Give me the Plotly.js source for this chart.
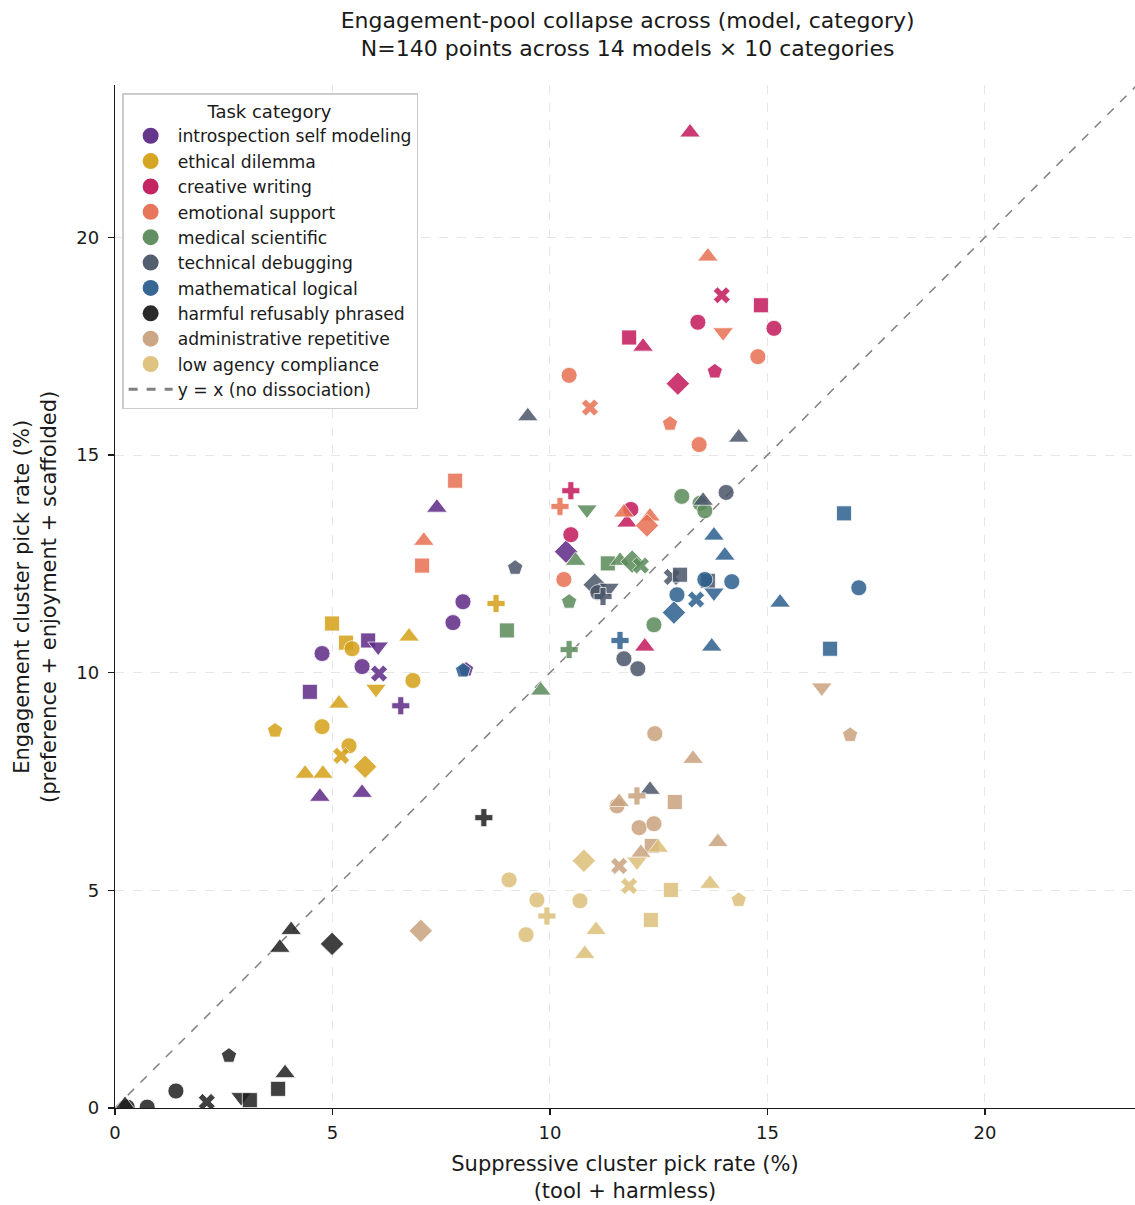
<!DOCTYPE html>
<html>
<head>
<meta charset="utf-8">
<script src="https://cdn.plot.ly/plotly-3.0.1.min.js"></script>
<style>body{margin:0;padding:0;background:#fff;} #chart{width:1135px;height:1205px;}</style>
</head>
<body>
<div id="chart"></div>
<script>
// Categories
const categories = ["introspection self modeling","ethical dilemma","creative writing","emotional support","medical scientific","technical debugging","mathematical logical","harmful refusably phrased","administrative repetitive","low agency compliance"];
const colors = ["#5e2a86","#d4a017","#c2185b","#e76f51","#5a8a5a","#4a5568","#2c5f8d","#1f1f1f","#c9a27e","#dcc07a"];

// Per-category points: suppressive (x), engagement (y), model marker code
const introX = [4.76,8.0,7.77,5.68,4.48,5.82,6.05,6.07,6.57,7.4,4.71,5.68,10.37,8.07];
const introY = [10.44,11.63,11.15,10.14,9.56,10.74,10.6,9.98,9.24,13.79,7.15,7.24,12.78,10.07];
const introM = ["o","o","o","o","s","s","v","X","P","^","^","^","D","p"];

const ethX = [4.99,5.31,5.45,6.76,6.85,6.0,5.15,3.68,4.76,5.38,5.2,5.75,4.37,4.78,8.76];
const ethY = [11.13,10.69,10.55,10.83,9.82,9.63,9.29,8.67,8.76,8.32,8.09,7.84,7.68,7.68,11.59];
const ethM = ["s","s","o","^","o","v","^","p","o","o","X","D","^","^","P"];

const creX = [13.22,13.95,14.85,13.4,15.15,11.82,12.14,12.94,13.79,10.48,11.86,11.77,10.48,12.18];
const creY = [22.41,18.67,18.44,18.05,17.91,17.7,17.49,16.64,16.92,14.18,13.75,13.45,13.17,10.6];
const creM = ["^","X","s","o","o","s","^","D","p","P","o","^","o","^"];

const emoX = [13.63,13.98,14.78,10.44,10.92,12.76,13.43,7.82,10.23,7.1,7.06,11.7,12.3,12.23,10.32];
const emoY = [19.56,17.82,17.26,16.83,16.09,15.72,15.24,14.41,13.82,13.03,12.46,13.68,13.59,13.38,12.14];
const emoM = ["^","v","o","o","X","p","o","s","P","^","s","^","^","D","o"];

const medX = [13.03,13.45,13.56,10.85,10.59,11.33,11.61,11.89,12.09,10.44,12.39,9.01,10.44,9.79];
const medY = [14.05,13.89,13.72,13.75,12.57,12.51,12.57,12.55,12.46,11.63,11.1,10.97,10.53,9.59];
const medM = ["o","o","o","v","^","s","^","D","X","p","o","s","P","^"];

const tecX = [9.49,14.34,14.05,13.52,9.2,11.03,11.1,11.36,11.22,12.8,12.99,13.63,11.7,12.02,12.3];
const tecY = [15.89,15.4,14.14,13.95,12.41,12.02,11.84,11.95,11.75,12.2,12.25,12.11,10.32,10.09,7.31];
const tecM = ["^","^","o","^","p","D","o","v","P","X","s","s","o","o","^"];

const matX = [16.76,13.77,14.02,13.56,14.18,17.1,12.92,13.36,13.77,15.29,12.85,11.61,13.72,16.44,8.0];
const matY = [13.66,13.15,12.69,12.14,12.09,11.95,11.79,11.68,11.84,11.61,11.38,10.74,10.6,10.55,10.05];
const matM = ["s","^","^","o","o","o","o","X","v","^","D","P","^","s","p"];

const harX = [8.48,4.99,4.05,3.79,2.62,3.91,3.75,1.4,2.11,2.9,3.1,0.74,0.28,0.23];
const harY = [6.67,3.77,4.09,3.68,1.2,0.8,0.44,0.39,0.14,0.25,0.18,0.02,0.02,0.07];
const harM = ["P","D","^","^","p","^","s","o","X","v","s","o","o","^"];

const admX = [16.25,16.9,12.41,13.29,13.86,12.0,12.87,11.54,11.59,12.05,12.39,12.34,12.09,11.59,7.03];
const admY = [9.66,8.57,8.6,8.02,6.11,7.17,7.03,6.94,7.03,6.44,6.53,6.02,5.86,5.56,4.07];
const admM = ["v","p","o","^","^","P","s","o","^","o","o","s","^","X","D"];

const lowX = [12.49,12.0,11.82,10.78,13.68,14.34,12.78,12.32,9.06,9.7,10.69,9.93,9.45,11.06,10.8];
const lowY = [5.98,5.66,5.1,5.68,5.15,4.78,5.01,4.32,5.24,4.78,4.76,4.41,3.98,4.09,3.54];
const lowM = ["^","v","X","D","^","p","s","s","o","o","o","P","o","^","^"];

const seriesX = [introX,ethX,creX,emoX,medX,tecX,matX,harX,admX,lowX];
const seriesY = [introY,ethY,creY,emoY,medY,tecY,matY,harY,admY,lowY];
const seriesM = [introM,ethM,creM,emoM,medM,tecM,matM,harM,admM,lowM];

const xTicks = [0,5,10,15,20];
const yTicks = [0,5,10,15,20];
const diagLine = [0,23.5];

const symMap = {"o":"circle","s":"square","^":"triangle-up","v":"triangle-down","D":"diamond","p":"pentagon","X":"x","P":"cross"};
const sizeMap = {"o":16,"s":15,"^":18,"v":18,"D":18,"p":16,"X":15,"P":15};

const traces = [];
// diagonal
traces.push({
  x: diagLine, y: diagLine, mode: "lines", type: "scatter",
  line: {color: "#808080", width: 1.5, dash: "dash"},
  showlegend: false, hoverinfo: "skip"
});
for (let i = 0; i < categories.length; i++) {
  traces.push({
    x: seriesX[i], y: seriesY[i], type: "scatter", mode: "markers",
    name: categories[i], showlegend: false,
    marker: {
      color: colors[i], opacity: 0.85,
      symbol: seriesM[i].map(m => symMap[m]),
      size: seriesM[i].map(m => sizeMap[m]),
      line: {color: "#ffffff", width: 0.8}
    }
  });
}
// legend entries
for (let i = 0; i < categories.length; i++) {
  traces.push({
    x: [null], y: [null], type: "scatter", mode: "markers", name: categories[i],
    marker: {color: colors[i], symbol: "circle", size: 16, opacity: 0.95},
    showlegend: true
  });
}
traces.push({
  x: [null], y: [null], type: "scatter", mode: "lines", name: "y = x (no dissociation)",
  line: {color: "#808080", width: 3, dash: "dash"}, showlegend: true
});

const font = "DejaVu Sans, sans-serif";
const layout = {
  width: 1135, height: 1205,
  margin: {l: 115, r: 0, t: 85, b: 97},
  paper_bgcolor: "#ffffff", plot_bgcolor: "#ffffff",
  font: {family: font, size: 17, color: "#1a1a1a"},
  title: {
    text: "Engagement-pool collapse across (model, category)<br>N=140 points across 14 models × 10 categories",
    font: {family: font, size: 22, color: "#1a1a1a"},
    x: 0.553, xanchor: "center", yref: "container", y: 0.977, yanchor: "middle"
  },
  xaxis: {
    range: [0, 23.45], tickvals: xTicks, ticktext: xTicks.map(String),
    showgrid: true, gridcolor: "#e6e6e6", griddash: "dash", gridwidth: 1,
    zeroline: false, showline: true, linecolor: "#1a1a1a", linewidth: 1.3,
    ticks: "outside", ticklen: 6, tickwidth: 1.2, tickcolor: "#1a1a1a",
    ticklabelstandoff: 2,
    tickfont: {family: font, size: 18, color: "#1a1a1a"},
    title: {text: "Suppressive cluster pick rate (%)<br>(tool + harmless)", font: {family: font, size: 21}, standoff: 14}
  },
  yaxis: {
    range: [0, 23.5], tickvals: yTicks, ticktext: yTicks.map(String),
    showgrid: true, gridcolor: "#e6e6e6", griddash: "dash", gridwidth: 1,
    zeroline: false, showline: true, linecolor: "#1a1a1a", linewidth: 1.3,
    ticks: "outside", ticklen: 6, tickwidth: 1.2, tickcolor: "#1a1a1a",
    ticklabelstandoff: 5,
    tickfont: {family: font, size: 18, color: "#1a1a1a"}
  },
  annotations: [{
    text: "Engagement cluster pick rate (%)<br>(preference + enjoyment + scaffolded)",
    xref: "paper", yref: "paper", x: -0.078, y: 0.5, xanchor: "center", yanchor: "middle",
    textangle: -90, showarrow: false, font: {family: font, size: 21, color: "#1a1a1a"}
  }],
  legend: {
    x: 0.007, y: 0.992, xanchor: "left", yanchor: "top",
    bgcolor: "rgba(255,255,255,0.85)", bordercolor: "#cccccc", borderwidth: 1.5,
    font: {family: font, size: 17.2, color: "#1a1a1a"},
    title: {text: "Task category", font: {family: font, size: 18}, side: "top center"},
    itemsizing: "trace", tracegroupgap: 0, itemwidth: 44
  },
  showlegend: true
};
Plotly.newPlot("chart", traces, layout, {displayModeBar: false, staticPlot: true});
</script>
</body>
</html>
